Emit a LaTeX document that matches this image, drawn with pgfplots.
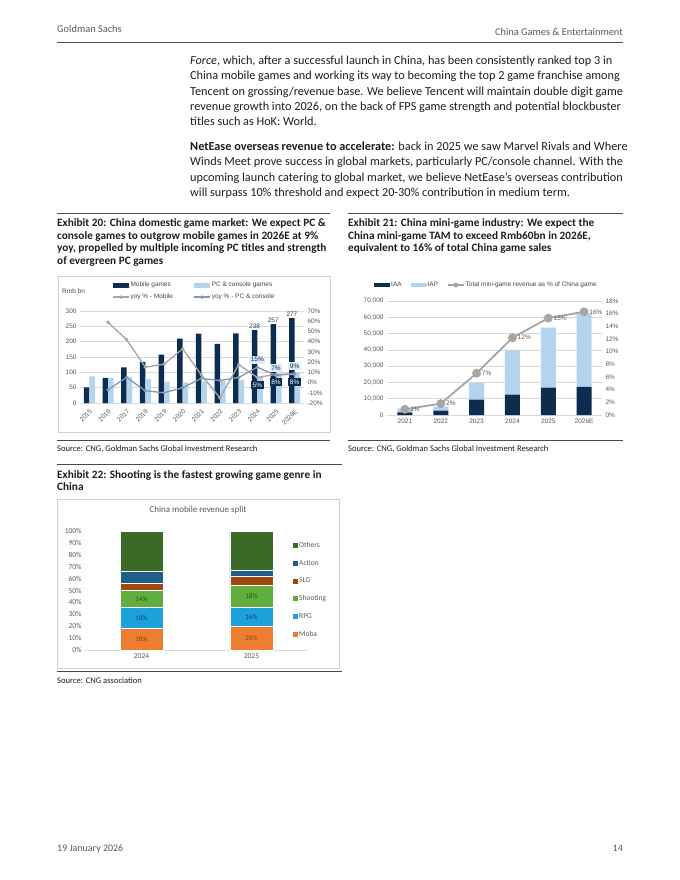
\documentclass[border=0pt]{standalone}
\usepackage{fontspec}
\setmainfont{Carlito}
\newfontfamily\arialf{Liberation Sans}
\usepackage{pgfplots}
\pgfplotsset{compat=1.18}

\definecolor{navy}{HTML}{0C2D50}
\definecolor{ltblue}{HTML}{B4D4EE}
\definecolor{lblbox}{HTML}{DCEBF7}
\definecolor{gmob}{HTML}{A6A6A6}
\definecolor{gpc}{HTML}{8497B0}
\definecolor{txtgray}{HTML}{595959}
\definecolor{gridc}{HTML}{D9D9D9}
\definecolor{framec}{HTML}{D0D0D0}
\definecolor{bodyc}{HTML}{1E1E1E}
\definecolor{headc}{HTML}{5A5A5A}
\definecolor{rulec}{HTML}{4A4A4A}
\definecolor{moba}{HTML}{ED7D31}
\definecolor{rpg}{HTML}{1DA1DB}
\definecolor{shoot}{HTML}{5FAE3E}
\definecolor{slg}{HTML}{9E480E}
\definecolor{action}{HTML}{1F5F87}
\definecolor{others}{HTML}{3A6A27}

\newcommand\fs[2]{\fontsize{#1}{#2}\selectfont}
\newcommand\af{\arialf\fs{6.5}{7.5}}
\newcommand\cf{\fs{7.5}{9}}

\pgfplotsset{
  gs/.style={scale only axis, anchor=south west,
    axis line style={draw=none}, tick style={draw=none},
    ticklabel style={font=\af, text=txtgray},
    scaled y ticks=false,
    grid style={gridc, line width=0.5bp}},
}

\begin{document}
\begin{tikzpicture}
\begin{scope}[x=1bp,y=1bp]
\fill[white] (0,0) rectangle (680,-880);

% page header
\node[anchor=base west, inner sep=0, text=headc, font=\fs{10.4}{12}] at (57,-32) {Goldman Sachs};
\node[anchor=base east, inner sep=0, text=headc, font=\fs{10.4}{12}] at (623,-35) {China Games \& Entertainment};
\draw[rulec, line width=0.7bp] (57,-42) -- (623,-42);

% body text
\begin{scope}[every node/.style={anchor=base west, inner sep=0, text=bodyc, font=\fs{12.3}{14}}]
\node at (190,-64.5) {\textit{Force}, which, after a successful launch in China, has been consistently ranked top 3 in};
\node at (190,-79.8) {China mobile games and working its way to becoming the top 2 game franchise among};
\node at (190,-95.1) {Tencent on grossing/revenue base. We believe Tencent will maintain double digit game};
\node at (190,-110.4) {revenue growth into 2026, on the back of FPS game strength and potential blockbuster};
\node at (190,-125.7) {titles such as HoK: World.};
\node at (190,-150.5) {\textbf{NetEase overseas revenue to accelerate:} back in 2025 we saw Marvel Rivals and Where};
\node at (190,-165.8) {Winds Meet prove success in global markets, particularly PC/console channel. With the};
\node at (190,-181.1) {upcoming launch catering to global market, we believe NetEase’s overseas contribution};
\node at (190,-196.4) {will surpass 10\% threshold and expect 20-30\% contribution in medium term.};
\end{scope}

% exhibit titles
\draw[rulec, line width=0.7bp] (57,-213) -- (330,-213);
\draw[rulec, line width=0.7bp] (348,-213) -- (623,-213);
\begin{scope}[every node/.style={anchor=base west, inner sep=0, text=bodyc, font=\bfseries\fs{11.3}{12.5}}]
\node at (57,-226.5) {Exhibit 20: China domestic game market: We expect PC \&};
\node at (57,-239) {console games to outgrow mobile games in 2026E at 9\%};
\node at (57,-251.5) {yoy, propelled by multiple incoming PC titles and strength};
\node at (57,-264) {of evergreen PC games};
\node at (348,-226.5) {Exhibit 21: China mini-game industry: We expect the};
\node at (348,-239) {China mini-game TAM to exceed Rmb60bn in 2026E,};
\node at (348,-251.5) {equivalent to 16\% of total China game sales};
\end{scope}

\draw[framec, line width=0.6bp] (58,-276) rectangle (330,-432);
\node[anchor=west, inner sep=0, font=\af, text=txtgray!80!black] at (62,-291) {Rmb bn};

% sources
\draw[rulec, line width=0.7bp] (57,-440) -- (330,-440);
\draw[rulec, line width=0.7bp] (348,-440) -- (623,-440);
\node[anchor=base west, inner sep=0, text=bodyc, font=\fs{8.6}{10}] at (57,-451) {Source: CNG, Goldman Sachs Global Investment Research};
\node[anchor=base west, inner sep=0, text=bodyc, font=\fs{8.6}{10}] at (348,-451) {Source: CNG, Goldman Sachs Global Investment Research};

\draw[rulec, line width=0.7bp] (57,-464) -- (342,-464);
\node[anchor=base west, inner sep=0, text=bodyc, font=\bfseries\fs{11.3}{12.5}] at (57,-478) {Exhibit 22: Shooting is the fastest growing game genre in};
\node[anchor=base west, inner sep=0, text=bodyc, font=\bfseries\fs{11.3}{12.5}] at (57,-490.5) {China};

\draw[framec, line width=0.6bp] (57,-499) rectangle (339,-668);
\node[font=\fs{9}{10}, text=txtgray] at (198,-510) {China mobile revenue split};

\draw[rulec, line width=0.7bp] (57,-671) -- (342,-671);
\node[anchor=base west, inner sep=0, text=bodyc, font=\fs{8.6}{10}] at (57,-683) {Source: CNG association};

% footer
\node[anchor=base west, inner sep=0, text=headc, font=\fs{10}{12}] at (57,-851) {19 January 2026};
\node[anchor=base east, inner sep=0, text=headc, font=\fs{10}{12}] at (623,-851) {14};
\end{scope}

% ---------------- Exhibit 20 ----------------
\begin{axis}[gs, at={(80bp,-403bp)}, width=224bp, height=92bp,
  ybar=0pt, bar width=5.5bp,
  xmin=-0.5, xmax=11.5, ymin=0, ymax=300,
  xtick={0,...,11},
  xticklabels={2015,2016,2017,2018,2019,2020,2021,2022,2023,2024,2025,2026E},
  xticklabel style={rotate=45, anchor=north east, inner sep=1bp},
  ytick={0,50,...,300},
  yticklabels={0,50,100,150,200,250,300},
  ymajorgrids, axis y line*=left, axis x line*=bottom,
]
\addplot[fill=navy, draw=none, bar shift=-2.75bp] coordinates {
  (0,51) (1,82) (2,116) (3,134) (4,158) (5,210) (6,226) (7,193) (8,227) (9,238) (10,257) (11,277)};
\addplot[fill=ltblue, draw=none, bar shift=2.75bp] coordinates {
  (0,87) (1,81) (2,85) (3,78) (4,70) (5,67) (6,69.5) (7,71) (8,74.5) (9,85.5) (10,91.5) (11,100)};
\addplot[draw=none, fill=none, bar shift=-2.75bp, nodes near coords, point meta=explicit symbolic,
  every node near coord/.append style={font=\af, text=black!75, inner sep=1.5bp}] coordinates {
  (9,238) [238] (10,257) [257] (11,277) [277]};
\end{axis}

\begin{axis}[gs, at={(80bp,-403bp)}, width=224bp, height=92bp,
  xmin=-0.5, xmax=11.5, ymin=-20, ymax=70,
  axis x line=none, axis y line*=right,
  ytick={-20,-10,...,70},
  yticklabels={-20\%,-10\%,0\%,10\%,20\%,30\%,40\%,50\%,60\%,70\%},
  legend columns=2,
  legend style={at={(0.143,1.33)}, anchor=north west, draw=none, fill=none,
    font=\af, text=txtgray!80!black, row sep=4bp, inner sep=0pt, nodes={inner sep=1bp}},
  legend cell align=left,
  legend image code/.code={\draw[mark repeat=2,mark phase=2,#1] plot coordinates {(0bp,0bp) (8bp,0bp) (16bp,0bp)};},
]
\addlegendimage{legend image code/.code={\fill[navy] (0bp,-2bp) rectangle (15bp,2bp);}}
\addlegendimage{legend image code/.code={\fill[ltblue] (0bp,-2bp) rectangle (15bp,2bp);}}
\addplot[gmob, line width=1.3bp, mark=*, mark size=1bp] coordinates {
  (1,59) (2,42) (3,15) (4,18) (5,33) (6,7.5) (7,-15) (8,17.5) (9,5) (10,8) (11,8)};
\addplot[gpc, line width=1.3bp, mark=*, mark size=1bp] coordinates {
  (1,-7) (2,5) (3,-8) (4,-10) (5,-5) (6,4) (7,2) (8,5) (9,15) (10,7) (11,9)};
\addplot[forget plot, draw=none, nodes near coords, point meta=explicit symbolic,
  every node near coord/.append style={font=\af, text=navy, fill=lblbox, anchor=south, yshift=3.5bp, inner sep=1.5bp}] coordinates {
  (9,15) [15\%] (10,7) [7\%] (11,9) [9\%]};
\addplot[forget plot, draw=none, nodes near coords, point meta=explicit symbolic,
  every node near coord/.append style={font=\af, text=white, fill=navy, anchor=north, yshift=-3.5bp, inner sep=1.5bp}] coordinates {
  (9,5) [5\%] (10,8) [8\%] (11,8) [8\%]};
\legend{\makebox[62bp][l]{Mobile games}, PC \& console games, yoy \% - Mobile, yoy \% - PC \& console}
\end{axis}

% ---------------- Exhibit 21 ----------------
\begin{axis}[gs, at={(387bp,-415bp)}, width=215bp, height=114bp,
  ybar stacked, bar width=15bp,
  xmin=-0.5, xmax=5.5, ymin=0, ymax=70000,
  xtick={0,...,5}, xticklabels={2021,2022,2023,2024,2025,2026E},
  ytick={0,10000,...,70000},
  yticklabels={0,{10,000},{20,000},{30,000},{40,000},{50,000},{60,000},{70,000}},
  ymajorgrids, axis y line*=left, axis x line*=bottom,
  legend columns=-1,
  legend style={at={(-0.0605,1.14)}, anchor=west, draw=none, fill=none,
    font=\af, text=txtgray!80!black, inner sep=0pt, nodes={inner sep=1bp},
    /tikz/every even column/.append style={column sep=8bp}},
  legend image code/.code={\fill[#1] (0bp,-2bp) rectangle (16bp,2bp);},
]
\addplot[fill=navy, draw=none] coordinates {
  (0,1600) (1,2700) (2,9400) (3,12500) (4,16800) (5,17300)};
\addplot[fill=ltblue, draw=none] coordinates {
  (0,2400) (1,2400) (2,10500) (3,27500) (4,36800) (5,45000)};
\addlegendimage{legend image code/.code={\draw[gmob, line width=1.6bp] (0bp,0bp) -- (16bp,0bp); \fill[gmob] (8bp,0bp) circle (2.2bp);}}
\legend{IAA, IAP, Total mini-game revenue as \% of China game}
\end{axis}

\begin{axis}[gs, at={(387bp,-415bp)}, width=215bp, height=114bp,
  xmin=-0.5, xmax=5.5, ymin=0, ymax=18,
  axis x line=none, axis y line*=right,
  ytick={0,2,...,18},
  yticklabels={0\%,2\%,4\%,6\%,8\%,10\%,12\%,14\%,16\%,18\%},
]
\addplot[gmob, line width=1.8bp, mark=*, mark size=3.5bp, mark options={fill=gmob, draw=gmob},
  nodes near coords, point meta=explicit symbolic,
  every node near coord/.append style={font=\af, text=txtgray, anchor=west, xshift=3.5bp, inner sep=1bp}] coordinates {
  (0,0.9) [1\%] (1,1.8) [2\%] (2,6.6) [7\%] (3,12.2) [12\%] (4,15.3) [15\%] (5,16.3) [16\%]};
\end{axis}

% ---------------- Exhibit 22 ----------------
\begin{axis}[gs, at={(85bp,-650bp)}, width=222bp, height=119bp,
  ybar stacked, bar width=43bp,
  xmin=-0.514, xmax=1.505, ymin=0, ymax=100,
  xtick={0,1}, xticklabels={2024,2025},
  ytick={0,10,...,100},
  yticklabels={0\%,10\%,20\%,30\%,40\%,50\%,60\%,70\%,80\%,90\%,100\%},
  ticklabel style={font=\cf, text=txtgray},
  axis y line*=left, axis x line*=bottom,
  x axis line style={draw=gridc, line width=0.7bp},
  reverse legend,
  legend style={at={(0.937,0.918)}, anchor=north west, draw=none, fill=none,
    font=\cf, text=txtgray, row sep=9.3bp, inner sep=0pt, nodes={inner sep=1bp}},
  legend cell align=left,
  legend image code/.code={\fill[#1, draw=none] (0bp,-2.5bp) rectangle (5bp,2.5bp);},
]
\addplot[fill=moba, draw=white, line width=0.7bp] coordinates {(0,18) (1,20)};
\addplot[fill=rpg, draw=white, line width=0.7bp] coordinates {(0,18) (1,16)};
\addplot[fill=shoot, draw=white, line width=0.7bp] coordinates {(0,14) (1,18)};
\addplot[fill=slg, draw=white, line width=0.7bp] coordinates {(0,6) (1,8)};
\addplot[fill=action, draw=white, line width=0.7bp] coordinates {(0,10) (1,5)};
\addplot[fill=others, draw=white, line width=0.7bp] coordinates {(0,34) (1,33)};
\legend{Moba, RPG, Shooting, SLG, Action, Others}
\end{axis}

\begin{axis}[gs, at={(85bp,-650bp)}, width=222bp, height=119bp,
  xmin=-0.514, xmax=1.505, ymin=0, ymax=100,
  axis x line=none, axis y line=none,
  every node near coord/.append style={font=\fs{7}{8}, anchor=center, inner sep=0pt},
]
\addplot[draw=none, nodes near coords, point meta=explicit symbolic,
  every node near coord/.append style={text=moba!55!black}] coordinates {(0,9) [18\%] (1,10) [20\%]};
\addplot[draw=none, nodes near coords, point meta=explicit symbolic,
  every node near coord/.append style={text=rpg!45!black}] coordinates {(0,27) [18\%] (1,28) [16\%]};
\addplot[draw=none, nodes near coords, point meta=explicit symbolic,
  every node near coord/.append style={text=shoot!45!black}] coordinates {(0,43) [14\%] (1,45) [18\%]};
\end{axis}
\end{tikzpicture}
\end{document}
